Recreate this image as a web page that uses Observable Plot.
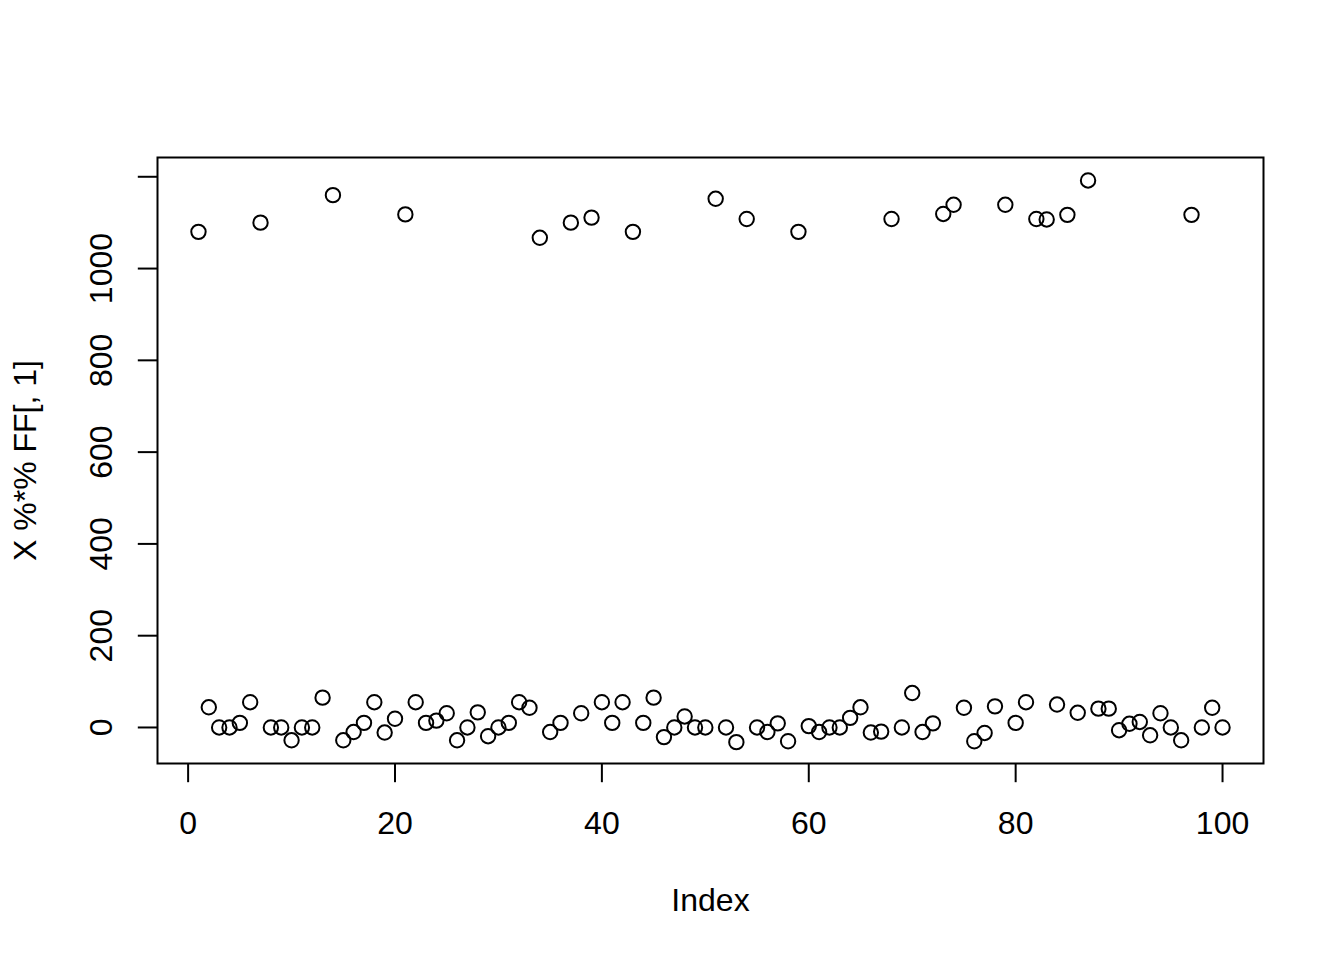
<!DOCTYPE html>
<html>
<head>
<meta charset="utf-8">
<script src="https://cdn.jsdelivr.net/npm/d3@7"></script>
<script src="https://cdn.jsdelivr.net/npm/@observablehq/plot@0.6"></script>
<style>
  html, body { margin: 0; padding: 0; background: #fff; }
  #chart svg { display: block; }
</style>
</head>
<body>
<div id="chart"></div>
<script>
// Values of X %*% FF[, 1] for Index 1..100
const values = [
  1080, 44, 0, 0, 10, 55, 1100, 0, 0, -28,
  0, 0, 65, 1160, -28, -10, 10, 55, -11, 19,
  1118, 55, 10, 15, 31, -28, 0, 33, -19, 0,
  10, 55, 43, 1067, -10, 10, 1100, 31, 1111, 55,
  10, 55, 1080, 10, 65, -21, 0, 24, 0, 0,
  1152, 0, -32, 1108, 0, -10, 9, -30, 1080, 3,
  -10, 0, 0, 21, 44, -11, -9, 1108, 0, 75,
  -10, 9, 1119, 1139, 43, -30, -12, 46, 1139, 10,
  55, 1108, 1107, 50, 1117, 32, 1192, 41, 41, -6,
  8, 12, -17, 31, 0, -28, 1117, 0, 43, 0
];
const index = values.map((_, i) => i + 1);
const xTicks = [0, 20, 40, 60, 80, 100];
const yTicks = [0, 200, 400, 600, 800, 1000, 1200];
const yTickLabels = [0, 200, 400, 600, 800, 1000];
const xLabel = "Index";
const yLabel = "X %*% FF[, 1]";

const data = index.map((i, k) => ({index: i, value: values[k]}));
const font = "'Liberation Sans', Arial, Helvetica, sans-serif";

const chart = Plot.plot({
  width: 1344,
  height: 960,
  marginLeft: 157,
  marginRight: 81,
  marginTop: 157,
  marginBottom: 197,
  style: {fontFamily: font, fontSize: "32px", color: "#000", background: "#fff"},
  x: {domain: [-2.96, 103.96]},
  y: {domain: [-78.5, 1242]},
  marks: [
    Plot.frame({stroke: "#000", strokeWidth: 2}),
    Plot.axisX(xTicks, {tickSize: 19.2, strokeWidth: 2, stroke: "#000", tickFormat: () => "", label: null}),
    Plot.axisY(yTicks, {tickSize: 19.2, strokeWidth: 2, stroke: "#000", tickFormat: () => "", label: null}),
    Plot.text(xTicks, {x: d => d, text: d => String(d), frameAnchor: "bottom", dy: 60, fontSize: 32, fill: "#000", textAnchor: "middle", lineAnchor: "middle"}),
    Plot.text(yTickLabels, {y: d => d, text: d => String(d), frameAnchor: "left", dx: -56, rotate: -90, fontSize: 32, fill: "#000", textAnchor: "middle", lineAnchor: "middle"}),
    Plot.text([xLabel], {text: d => d, frameAnchor: "bottom", dy: 137, fontSize: 32, fill: "#000", textAnchor: "middle", lineAnchor: "middle"}),
    Plot.text([yLabel], {text: d => d, frameAnchor: "left", dx: -132, rotate: -90, fontSize: 32, fill: "#000", textAnchor: "middle", lineAnchor: "middle"}),
    Plot.dot(data, {x: "index", y: "value", r: 7.2, stroke: "#000", strokeWidth: 2, fill: "none"})
  ]
});
document.getElementById("chart").appendChild(chart);
</script>
</body>
</html>
